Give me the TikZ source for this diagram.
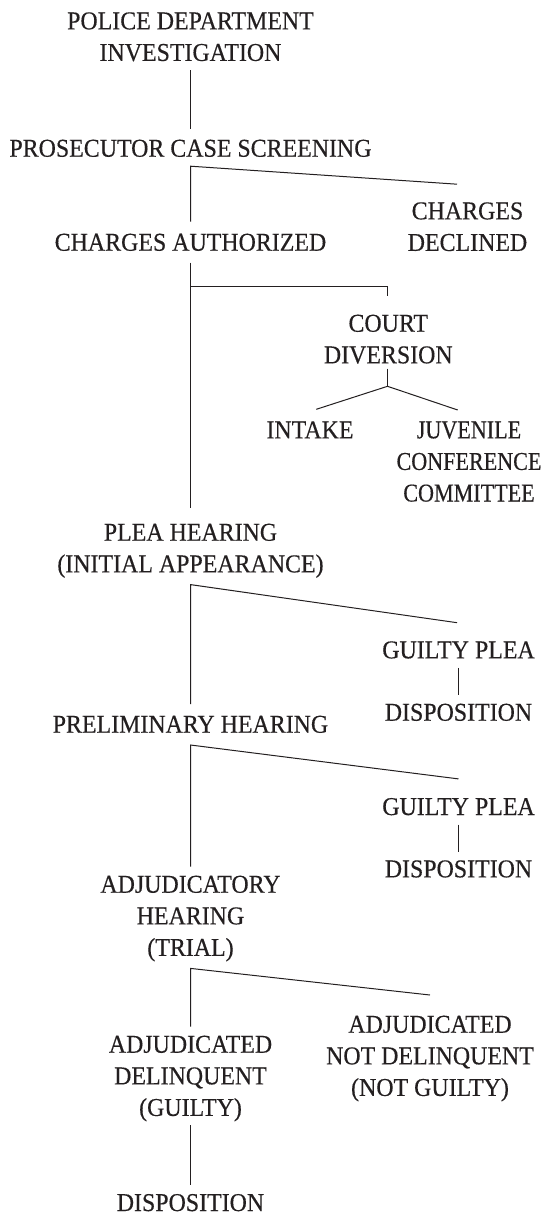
\documentclass[tikz,border=0pt]{standalone}
\usepackage{fontspec}
\setmainfont{Liberation Serif}[FakeStretch=0.93,FakeBold=0.35]
\newfontfamily\narrowfont{Liberation Serif}[FakeStretch=0.86,FakeBold=0.35]
\usetikzlibrary{calc}
\definecolor{ink}{RGB}{35,31,32}
\begin{document}
\begin{tikzpicture}[x=1pt,y=-1pt,
  lbl/.style={inner sep=0pt, outer sep=0pt, anchor=north, align=center, text=ink,
    font=\fontsize{25.7}{31.6}\selectfont},
  conn/.style={draw=ink, line width=1pt}]
\useasboundingbox[fill=white] (0,0) rectangle (543,1217);
% nodes (north anchor = first baseline - 22.12; every line carries a strut)
\node[lbl] (pd)  at (190.5,7.2)    {\strut POLICE DEPARTMENT\\\strut INVESTIGATION};
\node[lbl] (ps)  at (190.5,134.6)  {\strut PROSECUTOR CASE SCREENING};
\node[lbl] (cd)  at (467.5,197.2)  {\strut CHARGES\\\strut DECLINED};
\node[lbl] (ca)  at (190.5,228.6)  {\strut CHARGES AUTHORIZED};
\node[lbl] (dv)  at (388.3,309.6)  {\strut COURT\\\strut DIVERSION};
\node[lbl] (in)  at (310,416.2)    {\strut INTAKE};
\node[lbl,font=\narrowfont\fontsize{25.7}{31.6}\selectfont] (jc)  at (469,416.2)
  {\strut JUVENILE\\\strut CONFERENCE\\\strut COMMITTEE};
\node[lbl] (ph)  at (190.5,518.6)  {\strut PLEA HEARING\\\strut (INITIAL APPEARANCE)};
\node[lbl] (gp1) at (458.5,636.2)  {\strut GUILTY PLEA};
\node[lbl] (dp1) at (458.5,698.6)  {\strut DISPOSITION};
\node[lbl] (pr)  at (190.5,710.6)  {\strut PRELIMINARY HEARING};
\node[lbl] (gp2) at (458.5,792.9)  {\strut GUILTY PLEA};
\node[lbl] (dp2) at (458.5,855.2)  {\strut DISPOSITION};
\node[lbl] (ah)  at (190.5,870.6)  {\strut ADJUDICATORY\\\strut HEARING\\\strut (TRIAL)};
\node[lbl] (ad)  at (190.5,1030.6) {\strut ADJUDICATED\\\strut DELINQUENT\\\strut (GUILTY)};
\node[lbl] (an)  at (430,1010.6)   {\strut ADJUDICATED\\\strut NOT DELINQUENT\\\strut (NOT GUILTY)};
\node[lbl] (dp3) at (190.5,1188.9) {\strut DISPOSITION};
% connectors
\draw[conn] (pd.south) -- ($(ps.north)+(0,-5.6)$);
\draw[conn] ($(cd.north)+(-10.5,-13)$) -- (ps.south) -- ($(ca.north)+(0,-7)$);
\draw[conn] ($(ca.south)+(0,2.5)$) -- ($(ph.north)+(0,-10.6)$);
\draw[conn] ($(ca.south)+(0,26)$) -| ($(dv.north)+(-0.8,-13.6)$);
\coordinate (dvj) at ($(dv.south)+(-0.8,13.5)$);
\draw[conn] ($(dv.south)+(-0.8,-4.2)$) -- (dvj);
\draw[conn] ($(in.north)+(6.3,-6.9)$) -- (dvj) -- ($(jc.north)+(-11.3,-6.2)$);
\draw[conn] ($(gp1.north)+(-1.5,-13.5)$) -- ($(ph.south)+(0,2.8)$) -- ($(pr.north)+(0,-6.6)$);
\draw[conn] (gp1.south) -- ($(dp1.north)+(0,-3.6)$);
\draw[conn] ($(gp2.north)+(0,-14)$) -- ($(pr.south)+(0,2.8)$) -- ($(ah.north)+(0,-4)$);
\draw[conn] (gp2.south) -- ($(dp2.north)+(0,-3.5)$);
\draw[conn] ($(an.north)+(0,-15.6)$) -- ($(ah.south)+(0,3)$) -- ($(ad.north)+(0,-4)$);
\draw[conn] (ad.south) -- ($(dp3.north)+(0,-4)$);
\end{tikzpicture}
\end{document}
